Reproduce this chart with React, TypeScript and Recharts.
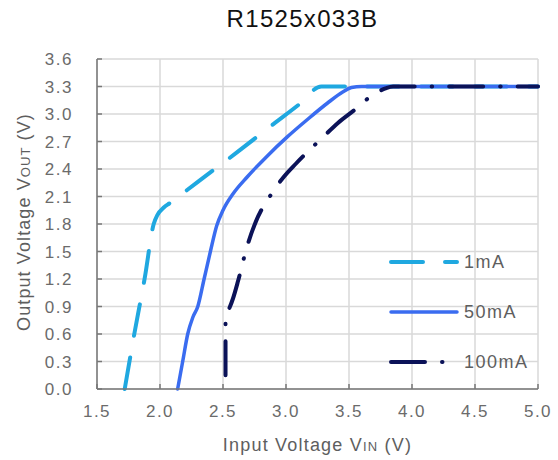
import { LineChart, Line, XAxis, YAxis, CartesianGrid } from "recharts";

const xTicks = [1.5, 2.0, 2.5, 3.0, 3.5, 4.0, 4.5, 5.0];
const yTicks = [0, 0.3, 0.6, 0.9, 1.2, 1.5, 1.8, 2.1, 2.4, 2.7, 3.0, 3.3, 3.6];

const vin1mA = [1.72, 1.8, 1.88, 1.95, 1.98, 2.03, 2.08, 2.3, 2.6, 2.9, 3.1, 3.28, 3.4, 4.0, 5.0];
const vout1mA = [0, 0.63, 1.22, 1.8, 1.9, 1.98, 2.03, 2.26, 2.57, 2.89, 3.1, 3.3, 3.3, 3.3, 3.3];

const vin50mA = [2.14, 2.18, 2.22, 2.26, 2.3, 2.35, 2.4, 2.45, 2.5, 2.58, 2.69, 2.85, 3.01, 3.17, 3.33, 3.45, 3.52, 3.6, 5.0];
const vout50mA = [0, 0.3, 0.6, 0.78, 0.9, 1.2, 1.5, 1.78, 1.95, 2.13, 2.31, 2.54, 2.75, 2.94, 3.12, 3.24, 3.29, 3.3, 3.3];

const vin100mA = [2.52, 2.52, 2.55, 2.58, 2.62, 2.69, 2.75, 2.89, 2.98, 3.08, 3.31, 3.41, 3.54, 3.68, 3.79, 3.85, 5.0];
const vout100mA = [0.15, 0.8, 0.88, 0.99, 1.18, 1.55, 1.79, 2.14, 2.31, 2.46, 2.77, 2.9, 3.04, 3.2, 3.28, 3.3, 3.3];

const toPoints = (xs: number[], ys: number[]) => xs.map((vin, i) => ({ vin, vout: ys[i] }));

const series = [
  { name: "1mA", color: "#1fa8e0", dash: "32 22", width: 4, data: toPoints(vin1mA, vout1mA) },
  { name: "50mA", color: "#3a6cf0", dash: undefined, width: 3.5, data: toPoints(vin50mA, vout50mA) },
  { name: "100mA", color: "#0b1258", dash: "34 17 0.5 17", width: 4, data: toPoints(vin100mA, vout100mA) },
];

const font = "'Liberation Sans', Arial, sans-serif";
const tickStyle = { fontSize: 17, fill: "#6b6b6b", letterSpacing: 1.5, fontFamily: font };

function LegendBox() {
  return (
    <svg width={170} height={130} style={{ position: "absolute", left: 378, top: 245 }}>
      {series.map((s, i) => {
        const y = 17 + i * 50;
        return (
          <g key={s.name}>
            <line
              x1={13}
              x2={79}
              y1={y}
              y2={y}
              stroke={s.color}
              strokeWidth={s.width}
              strokeDasharray={s.dash}
              strokeLinecap="round"
            />
            <text x={86} y={y + 6} fontSize={18} letterSpacing={1.5} fill="#5e5e5e" fontFamily={font}>
              {s.name}
            </text>
          </g>
        );
      })}
    </svg>
  );
}

export default function App() {
  return (
    <div style={{ position: "absolute", left: 0, top: 0, width: 558, height: 460, background: "#fff" }}>
      <div
        style={{
          position: "absolute",
          left: 0,
          top: 5,
          width: 605,
          textAlign: "center",
          fontSize: 24,
          letterSpacing: 1.3,
          fontFamily: font,
          color: "#111",
        }}
      >
        R1525x033B
      </div>
      <LineChart width={558} height={460} margin={{ top: 59, right: 20, bottom: 0, left: 0 }}>
        <CartesianGrid stroke="#d9d9d9" strokeWidth={1.5} />
        <XAxis
          type="number"
          dataKey="vin"
          domain={[1.5, 5.0]}
          ticks={xTicks}
          interval={0}
          tickFormatter={(v) => v.toFixed(1)}
          height={71}
          tick={tickStyle}
          tickSize={-5}
          tickMargin={21}
          stroke="#777"
          strokeWidth={1.5}
          label={({ viewBox }: any) => (
            <text
              x={viewBox.x + viewBox.width / 2}
              y={viewBox.y + 62}
              textAnchor="middle"
              fontSize={18}
              letterSpacing={1.2}
              fill="#5e5e5e"
              fontFamily={font}
            >
              Input Voltage V<tspan fontSize={13}>IN</tspan> (V)
            </text>
          )}
        />
        <YAxis
          type="number"
          dataKey="vout"
          domain={[0, 3.6]}
          ticks={yTicks}
          interval={0}
          tickFormatter={(v) => v.toFixed(1)}
          width={97}
          tick={tickStyle}
          tickSize={-5}
          tickMargin={29}
          stroke="#777"
          strokeWidth={1.5}
          label={({ viewBox }: any) => {
            const cx = 30;
            const cy = viewBox.y + viewBox.height / 2 - 2;
            return (
              <text
                x={cx}
                y={cy}
                transform={`rotate(-90 ${cx} ${cy})`}
                textAnchor="middle"
                fontSize={18}
                letterSpacing={1.1}
                fill="#5e5e5e"
                fontFamily={font}
              >
                Output Voltage V<tspan fontSize={13}>OUT</tspan> (V)
              </text>
            );
          }}
        />
        {series.map((s) => (
          <Line
            key={s.name}
            name={s.name}
            data={s.data}
            dataKey="vout"
            type="monotone"
            stroke={s.color}
            strokeWidth={s.width}
            strokeDasharray={s.dash}
            strokeLinecap="round"
            dot={false}
            activeDot={false}
            isAnimationActive={false}
          />
        ))}
      </LineChart>
      <LegendBox />
    </div>
  );
}
